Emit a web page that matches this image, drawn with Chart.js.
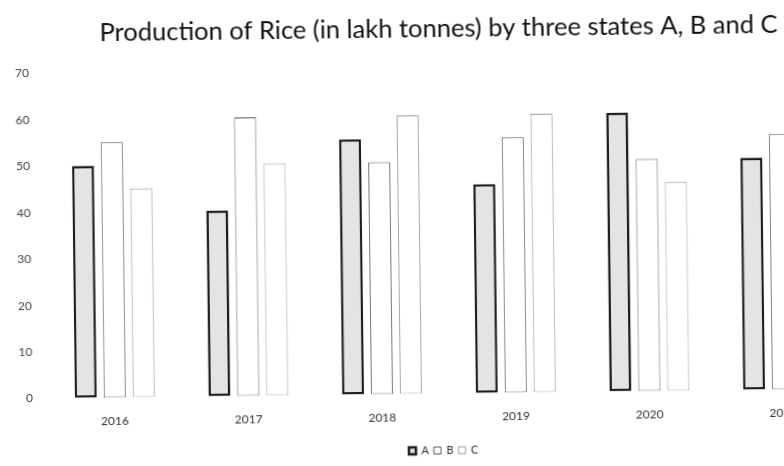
<!DOCTYPE html>
<html>
<head>
<meta charset="utf-8">
<script src="https://cdn.jsdelivr.net/npm/chart.js@4"></script>
<style>
  html, body { margin: 0; padding: 0; background: #fff; overflow: hidden; }
  #wrap { width: 880px; height: 466px; transform: rotate(-0.7deg); transform-origin: 440px 233px; }
</style>
</head>
<body>
<div id="wrap"><canvas id="myChart" width="880" height="466"></canvas></div>
<script>
// years on the x axis
const years = ['2016', '2017', '2018', '2019', '2020', '2021'];

// production of rice, lakh tonnes
const stateA = [50, 40, 55, 45, 60, 50];
const stateB = [55, 60, 50, 55, 50, 55];
const stateC = [45, 50, 60, 60, 45, 45];

const yTicks = [0, 10, 20, 30, 40, 50, 60, 70];

const ctx = document.getElementById('myChart').getContext('2d');
let myChart = new Chart(ctx, {
    type: 'bar',
    data: {
        labels: years,
        datasets: [{
            label: 'A',
            data: stateA,
            backgroundColor: '#e4e4e4',
            borderColor: '#1c1c1c',
            borderWidth: 2.5,
            borderSkipped: false
        }, {
            label: 'B',
            data: stateB,
            backgroundColor: '#ffffff',
            borderColor: '#555555',
            borderWidth: 1,
            borderSkipped: false
        }, {
            label: 'C',
            data: stateC,
            backgroundColor: '#ffffff',
            borderColor: '#9a9a9a',
            borderWidth: 1,
            borderSkipped: false
        }]
    },
    options: {
        responsive: false,
        animation: false,
        categoryPercentage: 0.65,
        barPercentage: 0.76,
        layout: { padding: { left: 2, right: 0, top: 0, bottom: 0 } },
        plugins: {
            title: {
                display: true,
                text: 'Production of Rice (in lakh tonnes) by three states A, B and C',
                color: '#111',
                font: { family: 'Lato', size: 25.5, weight: 'normal' },
                padding: { top: 13, bottom: 25 }
            },
            legend: {
                position: 'bottom',
                labels: {
                    color: '#333',
                    font: { family: 'Lato', size: 11 },
                    boxWidth: 7,
                    boxHeight: 7,
                    padding: 5
                }
            },
            tooltip: { enabled: false }
        },
        scales: {
            x: {
                grid: { display: false, drawTicks: false },
                border: { display: false },
                ticks: { color: '#333', font: { family: 'Lato', size: 12 }, padding: 16 }
            },
            y: {
                min: 0,
                max: 70,
                afterBuildTicks: axis => { axis.ticks = yTicks.map(v => ({ value: v })); },
                grid: { display: false, drawTicks: false },
                border: { display: false },
                ticks: { color: '#444', font: { family: 'Lato', size: 12 }, padding: 15 }
            },
            // empty spacer on the right so the plot stops short of the edge
            yRight: {
                position: 'right',
                grid: { display: false, drawTicks: false },
                border: { display: false },
                ticks: { display: false },
                afterFit: s => { s.width = 32; }
            }
        }
    }
});
</script>
</body>
</html>
